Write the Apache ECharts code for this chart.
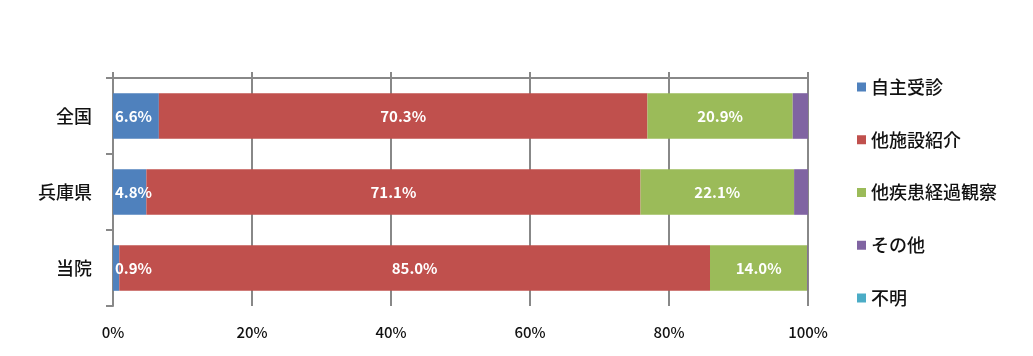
<!DOCTYPE html>
<html><head><meta charset="utf-8">
<script src="https://cdn.jsdelivr.net/npm/echarts@6/dist/echarts.min.js"></script>
<style>html,body{margin:0;padding:0;background:#fff}#c{width:1033px;height:356px}</style>
</head><body><div id="c"></div>
<script>
const categories = ['全国', '兵庫県', '当院'];
const seriesNames = ['自主受診', '他施設紹介', '他疾患経過観察', 'その他', '不明'];
const jishu = [6.6, 4.8, 0.9];
const tashisetsu = [70.3, 71.1, 85.0];
const tashikkan = [20.9, 22.1, 14.0];
const sonota = [2.2, 2.0, 0.1];
const fumei = [0, 0, 0];
const tickLabels = ['0%', '20%', '40%', '60%', '80%', '100%'];
const colors = ['#4F81BD', '#C0504D', '#9BBB59', '#8064A2', '#4BACC6'];
const FONT = '"Noto Sans CJK JP", "Noto Sans", sans-serif';
const values = [jishu, tashisetsu, tashikkan, sonota, fumei];

const chart = echarts.init(document.getElementById('c'));
const series = seriesNames.map((name, i) => ({
  name, type: 'bar', stack: 'total', data: values[i],
  barCategoryGap: '40%',
  itemStyle: { color: colors[i] },
  label: {
    show: i < 3,
    position: i === 0 ? 'insideLeft' : 'inside',
    distance: 2,
    color: '#fff', fontWeight: 'bold', fontSize: 15, fontFamily: FONT,
    formatter: p => p.value.toFixed(1) + '%'
  },
  xAxisIndex: 0
}));
chart.setOption({
  animation: false,
  textStyle: { fontFamily: FONT },
  grid: { left: 113, right: 225, top: 78, bottom: 50, containLabel: false },
  legend: {
    orient: 'vertical', left: 852, top: 72,
    itemWidth: 9, itemHeight: 9, itemGap: 32.75,
    icon: 'rect',
    data: seriesNames,
    textStyle: { fontSize: 18, color: '#111', fontWeight: 500, fontFamily: FONT, lineHeight: 20 }
  },
  xAxis: [{
    type: 'value', min: 0, max: 100, interval: 20, position: 'top',
    axisLine: { show: true, lineStyle: { color: '#888', width: 2 } },
    axisTick: { show: true, length: 6, lineStyle: { color: '#888', width: 2 } },
    axisLabel: { show: false },
    splitLine: { show: true, lineStyle: { color: '#888', width: 2 } }
  }, {
    type: 'value', min: 0, max: 100, interval: 20, position: 'bottom',
    axisLine: { show: false }, axisTick: { show: false }, splitLine: { show: false },
    axisLabel: { show: true, margin: 19, fontSize: 15, color: '#111', fontWeight: 500, fontFamily: FONT,
      formatter: v => tickLabels[v / 20] }
  }],
  yAxis: {
    type: 'category', data: categories, inverse: true,
    axisLine: { show: true, lineStyle: { color: '#888', width: 2 } },
    axisTick: { show: true, length: 7, lineStyle: { color: '#888', width: 2 } },
    axisLabel: { margin: 21, fontSize: 18, color: '#111', fontWeight: 500, fontFamily: FONT }
  },
  series
});
</script></body></html>
